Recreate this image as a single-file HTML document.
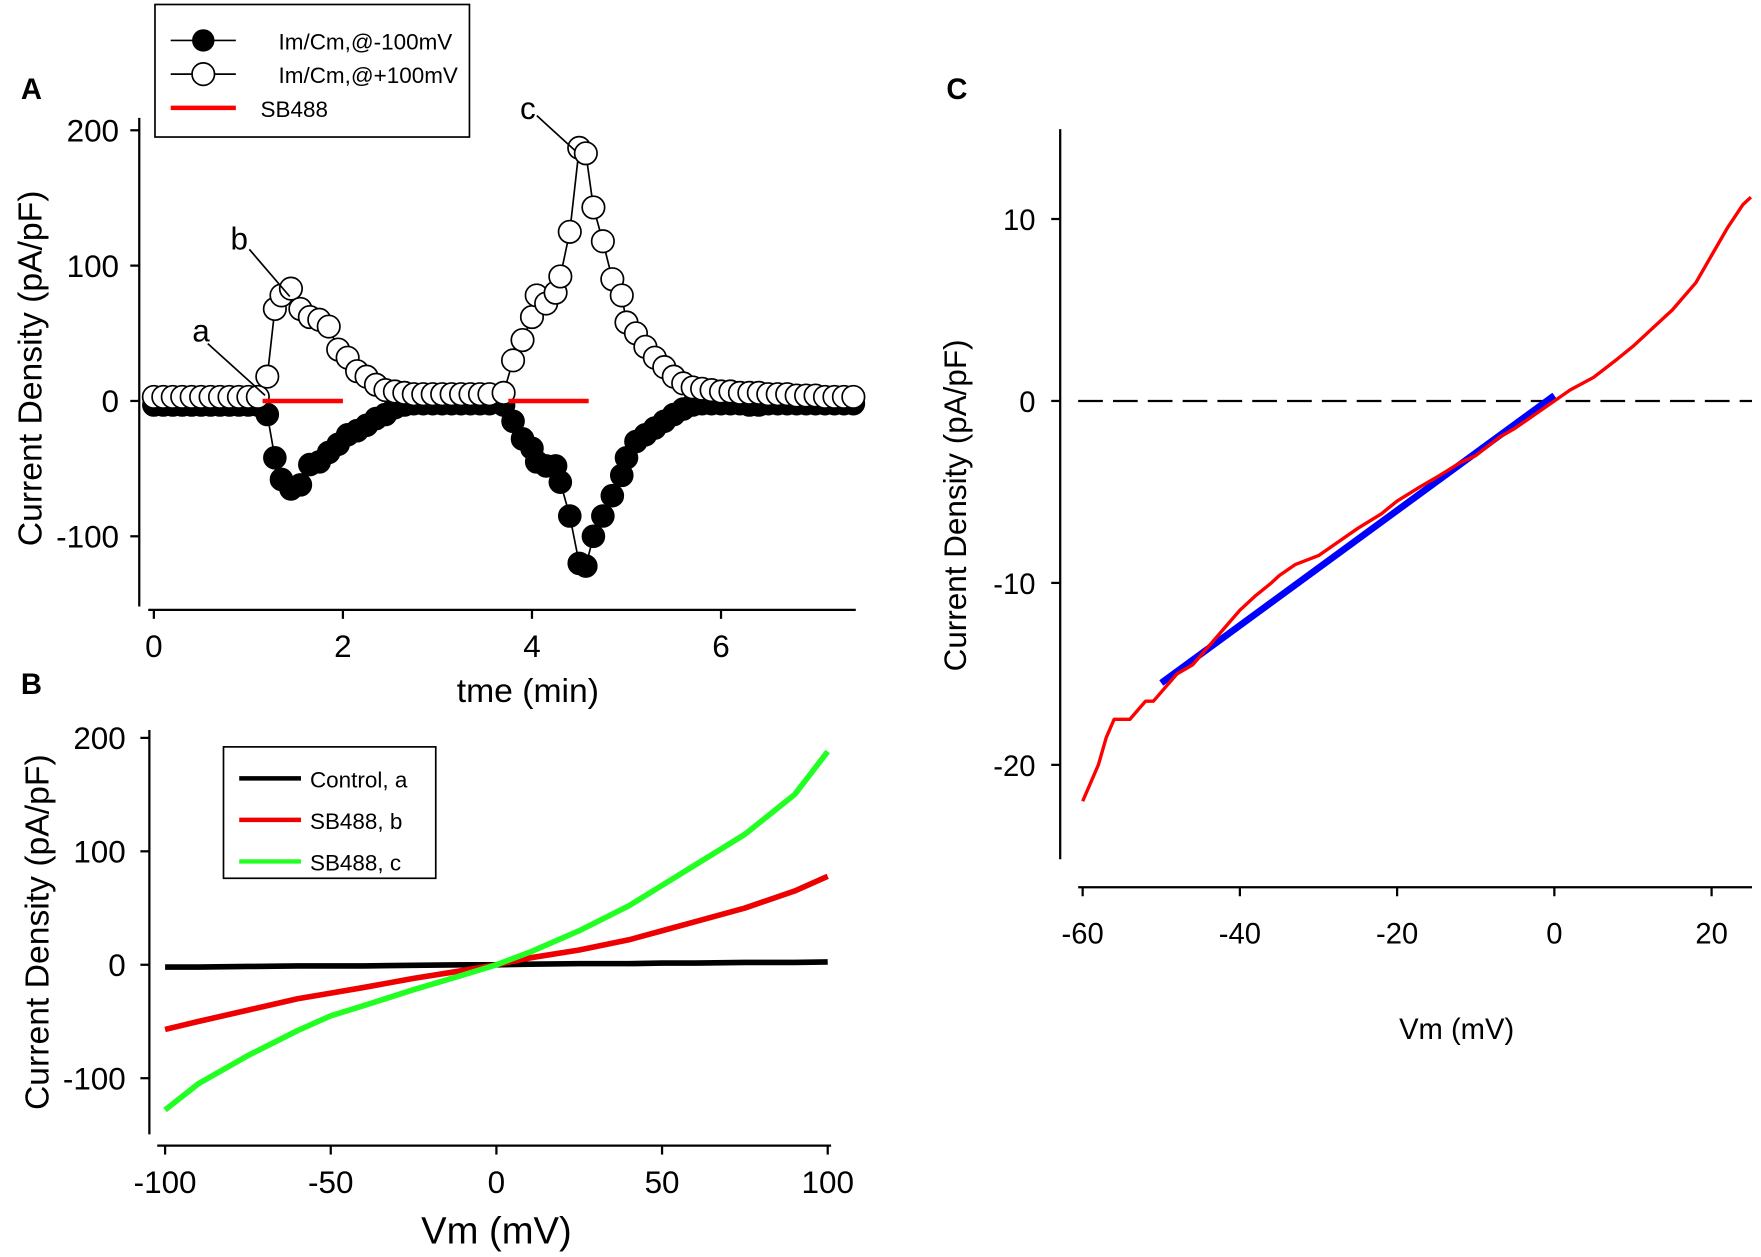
<!DOCTYPE html>
<html><head><meta charset="utf-8"><style>
html,body{margin:0;padding:0;background:#fff;}
svg{display:block;font-family:"Liberation Sans",Arial,sans-serif;}
</style></head><body>
<svg id="fig" width="1761" height="1257" viewBox="0 0 1568 1119.2" preserveAspectRatio="none" xmlns="http://www.w3.org/2000/svg"></svg>
<script>
// ---- Panel A data ----
const timeA = [0,0.1,0.2,0.3,0.4,0.5,0.6,0.7,0.8,0.9,1.0,1.1,1.2,1.28,1.35,1.45,1.55,1.65,1.75,1.85,1.95,2.05,2.15,2.25,2.35,2.45,2.55,2.65,2.75,2.85,2.95,3.05,3.15,3.25,3.35,3.45,3.55,3.7,3.8,3.9,4.0,4.05,4.15,4.25,4.3,4.4,4.5,4.57,4.65,4.75,4.85,4.95,5.0,5.1,5.2,5.3,5.4,5.5,5.6,5.7,5.8,5.9,6.0,6.1,6.2,6.3,6.4,6.5,6.6,6.7,6.8,6.9,7.0,7.1,7.2,7.3,7.4];
const posA = [3,3,3,3,3,3,3,3,3,3,3,3,18,68,78,83,68,62,60,55,38,32,22,18,12,8,7,6,5,5,5,5,5,5,5,5,5,6,30,45,62,78,72,80,92,125,187,183,143,118,90,78,58,50,40,32,25,18,13,10,9,8,7,7,6,6,6,5,5,5,4,4,4,3,3,3,3];
const negA = [-3,-3,-3,-3,-3,-3,-3,-3,-3,-3,-3,-3,-10,-42,-58,-65,-62,-47,-45,-38,-32,-25,-22,-18,-13,-10,-5,-3,-2,-2,-2,-2,-2,-2,-2,-2,-2,-3,-15,-28,-35,-45,-48,-48,-60,-85,-120,-122,-100,-85,-70,-55,-42,-30,-25,-20,-15,-10,-6,-3,-2,-2,-2,-2,-2,-3,-3,-2,-2,-2,-2,-2,-2,-2,-2,-2,-2];
const sbA = [[1.15,2.0],[3.75,4.6]];
const xTicksA = [0,2,4,6];
const yTicksA = [-100,0,100,200];
// ---- Panel B data ----
const vB = [-100,-90,-75,-60,-50,-40,-25,-10,0,10,25,40,50,60,75,90,100];
const ctrlB = [-2,-2,-1.5,-1,-1,-1,-0.5,0,0,0.5,1,1,1.5,1.5,2,2,2.5];
const sbbB = [-57,-50,-40,-30,-25,-20,-12,-5,0,6,13,22,30,38,50,65,78];
const sbcB = [-128,-105,-80,-58,-45,-36,-22,-9,0,11,30,52,70,88,115,150,188];
const xTicksB = [-100,-50,0,50,100];
const yTicksB = [-100,0,100,200];
// ---- Panel C data ----
const vC = [-60,-59,-58,-57,-56,-55,-54,-53,-52,-51,-50,-48,-46,-44,-42,-40,-38,-36,-35,-33,-30,-27,-25,-22,-20,-17,-15,-12,-10,-7,-5,-2,0,2,5,8,10,13,15,18,20,22,24,25];
const iC = [-22,-21,-20,-18.5,-17.5,-17.5,-17.5,-17,-16.5,-16.5,-16,-15,-14.5,-13.5,-12.5,-11.5,-10.7,-10,-9.6,-9,-8.5,-7.6,-7,-6.2,-5.5,-4.7,-4.2,-3.4,-3,-2,-1.5,-0.6,0,0.6,1.3,2.3,3,4.2,5,6.5,8,9.5,10.8,11.2];
const fitC = [[-50,-15.5],[0,0.3]];
const xTicksC = [-60,-40,-20,0,20];
const yTicksC = [-20,-10,0,10];

const NS='http://www.w3.org/2000/svg';
const svg=document.getElementById('fig');
function mk(tag,attrs,parent){const e=document.createElementNS(NS,tag);for(const k in attrs)e.setAttribute(k,attrs[k]);(parent||svg).appendChild(e);return e;}
function txt(s,x,y,size,anchor,parent,extra){const t=mk('text',Object.assign({x:x,y:y,'font-size':size,'text-anchor':anchor||'middle',fill:'#000'},extra||{}),parent);t.textContent=s;return t;}
function lin(d0,d1,r0,r1){return v=>r0+(v-d0)*(r1-r0)/(d1-d0);}

// ===== Panel A =====
const gA=mk('g',{});


const xA=lin(0,6,137,642), yA=lin(0,200,357,116);
mk('line',{x1:124,y1:105,x2:124,y2:540,stroke:'#000','stroke-width':2},gA);
mk('line',{x1:132,y1:543,x2:762,y2:543,stroke:'#000','stroke-width':2},gA);
yTicksA.forEach(v=>{mk('line',{x1:116,y1:yA(v),x2:124,y2:yA(v),stroke:'#000','stroke-width':2},gA);const t=txt(String(v),106,yA(v)+10,28,'end',gA);});
xTicksA.forEach(v=>{mk('line',{x1:xA(v),y1:543,x2:xA(v),y2:551,stroke:'#000','stroke-width':2},gA);const t=txt(String(v),xA(v),585,28,'middle',gA);});
let tl=txt('tme (min)',470,625,30,'middle',gA);


tl=txt('Current Density (pA/pF)',0,0,30,'middle',gA,{transform:'translate(37,328) rotate(-90)'});


mk('polyline',{points:timeA.map((t,i)=>xA(t)+','+yA(negA[i])).join(' '),fill:'none',stroke:'#000','stroke-width':1.5},gA);
mk('polyline',{points:timeA.map((t,i)=>xA(t)+','+yA(posA[i])).join(' '),fill:'none',stroke:'#000','stroke-width':1.5},gA);
timeA.forEach((t,i)=>{const c=mk('circle',{cx:xA(t),cy:yA(negA[i]),r:10,fill:'#000',stroke:'#000'},gA);});
timeA.forEach((t,i)=>{const c=mk('circle',{cx:xA(t),cy:yA(posA[i]),r:10,fill:'#fff',stroke:'#000','stroke-width':1.5},gA);});
sbA.forEach(s=>{const l=mk('line',{x1:xA(s[0]),y1:yA(0),x2:xA(s[1]),y2:yA(0),stroke:'#f00','stroke-width':4},gA);});
mk('line',{x1:185,y1:306,x2:236,y2:352,stroke:'#000','stroke-width':1.5},gA);txt('a',179,304,28,'middle',gA);
mk('line',{x1:222,y1:222,x2:258,y2:264,stroke:'#000','stroke-width':1.5},gA);txt('b',213,222,28,'middle',gA);
mk('line',{x1:478,y1:103,x2:512,y2:134,stroke:'#000','stroke-width':1.5},gA);txt('c',470,106,28,'middle',gA);
const lgA=mk('g',{},gA);


mk('rect',{x:138,y:4,width:280,height:118,fill:'#fff',stroke:'#000','stroke-width':1.5},lgA);
mk('line',{x1:152,y1:36,x2:210,y2:36,stroke:'#000','stroke-width':1.5},lgA);mk('circle',{cx:181,cy:36,r:10,fill:'#000'},lgA);txt('Im/Cm,@-100mV',248,44,20,'start',lgA);
mk('line',{x1:152,y1:66,x2:210,y2:66,stroke:'#000','stroke-width':1.5},lgA);mk('circle',{cx:181,cy:66,r:10,fill:'#fff',stroke:'#000','stroke-width':1.5},lgA);txt('Im/Cm,@+100mV',248,74,20,'start',lgA);
mk('line',{x1:152,y1:96,x2:210,y2:96,stroke:'#f00','stroke-width':4},lgA);txt('SB488',232,104,20,'start',lgA);
txt('A',28,88,26,'middle',svg,{'font-weight':'bold'});

// ===== Panel B =====
const gB=mk('g',{});


const xB=lin(-100,100,147,737), yB=lin(0,200,859,657);
mk('line',{x1:133,y1:650,x2:133,y2:1010,stroke:'#000','stroke-width':2},gB);
mk('line',{x1:140,y1:1020,x2:740,y2:1020,stroke:'#000','stroke-width':2},gB);
yTicksB.forEach(v=>{mk('line',{x1:125,y1:yB(v),x2:133,y2:yB(v),stroke:'#000','stroke-width':2},gB);const t=txt(String(v),112,yB(v)+10,28,'end',gB);});
xTicksB.forEach(v=>{mk('line',{x1:xB(v),y1:1020,x2:xB(v),y2:1028,stroke:'#000','stroke-width':2},gB);const t=txt(String(v),xB(v),1062,28,'middle',gB);});
tl=txt('Vm (mV)',442,1107,34,'middle',gB);


tl=txt('Current Density (pA/pF)',0,0,30,'middle',gB,{transform:'translate(43,830) rotate(-90)'});


[[ctrlB,'#000','trace-control-a'],[sbbB,'#e00','trace-sb488-b'],[sbcB,'#2f2','trace-sb488-c']].forEach(s=>{const p=mk('polyline',{points:vB.map((v,i)=>xB(v)+','+yB(s[0][i])).join(' '),fill:'none',stroke:s[1],'stroke-width':5,'stroke-linejoin':'round'},gB);});
const lgB=mk('g',{},gB);


mk('rect',{x:199,y:665,width:189,height:117,fill:'#fff',stroke:'#000','stroke-width':1.5},lgB);
[['#000','Control, a',693],['#e00','SB488, b',730],['#2f2','SB488, c',767]].forEach(r=>{mk('line',{x1:213,y1:r[2],x2:268,y2:r[2],stroke:r[0],'stroke-width':4},lgB);txt(r[1],276,r[2]+8,20,'start',lgB);});
txt('B',28,618,26,'middle',svg,{'font-weight':'bold'});

// ===== Panel C =====
const gC=mk('g',{});


const xC=lin(-60,20,964,1524), yC=lin(0,10,357,195);
mk('line',{x1:944,y1:115,x2:944,y2:765,stroke:'#000','stroke-width':2},gC);
mk('line',{x1:960,y1:790,x2:1560,y2:790,stroke:'#000','stroke-width':2},gC);
yTicksC.forEach(v=>{mk('line',{x1:936,y1:yC(v),x2:944,y2:yC(v),stroke:'#000','stroke-width':2},gC);const t=txt(String(v),922,yC(v)+10,26,'end',gC);});
xTicksC.forEach(v=>{mk('line',{x1:xC(v),y1:790,x2:xC(v),y2:798,stroke:'#000','stroke-width':2},gC);const t=txt(String(v),xC(v),840,26,'middle',gC);});
tl=txt('Vm (mV)',1297,925,26,'middle',gC);


tl=txt('Current Density (pA/pF)',0,0,28,'middle',gC,{transform:'translate(860,450) rotate(-90)'});


let zl=mk('line',{x1:960,y1:yC(0),x2:1560,y2:yC(0),stroke:'#000','stroke-width':2,'stroke-dasharray':'22,9'},gC);


let fl=mk('line',{x1:xC(fitC[0][0]),y1:yC(fitC[0][1]),x2:xC(fitC[1][0]),y2:yC(fitC[1][1]),stroke:'#00f','stroke-width':6},gC);


let rc=mk('polyline',{points:vC.map((v,i)=>xC(v)+','+yC(iC[i])).join(' '),fill:'none',stroke:'#f00','stroke-width':3,'stroke-linejoin':'round'},gC);


txt('C',852,88,26,'middle',svg,{'font-weight':'bold'});
</script>
</body></html>
